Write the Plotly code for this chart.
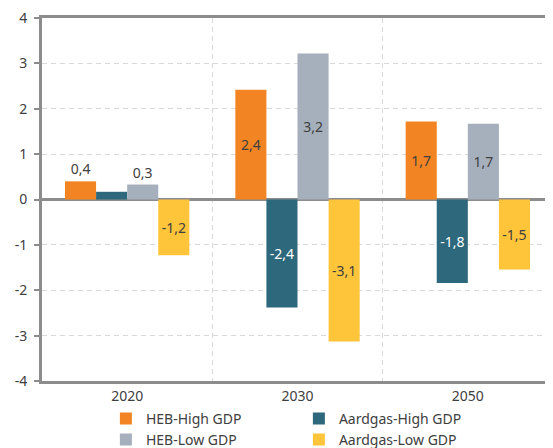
import plotly.graph_objects as go

categories = ["2020", "2030", "2050"]
series_names = ["HEB-High GDP", "Aardgas-High GDP", "HEB-Low GDP", "Aardgas-Low GDP"]
heb_high = [0.4, 2.42, 1.72]
aardgas_high = [0.17, -2.38, -1.84]
heb_low = [0.33, 3.22, 1.67]
aardgas_low = [-1.23, -3.13, -1.54]
y_ticks = [-4, -3, -2, -1, 0, 1, 2, 3, 4]
y_tick_text = [str(t) for t in y_ticks]

colors = ["#F38423", "#2E687C", "#A5B0BC", "#FEC43A"]
text_colors = ["#404040", "#FFFFFF", "#404040", "#404040"]
positions = [
    ["outside", "inside", "inside"],
    ["none", "inside", "inside"],
    ["outside", "inside", "inside"],
    ["inside", "inside", "inside"],
]
all_values = [heb_high, aardgas_high, heb_low, aardgas_low]

FONT = "Noto Sans"
FS = 14
fig = go.Figure()
for name, vals, col, tcol, pos in zip(series_names, all_values, colors, text_colors, positions):
    fig.add_trace(go.Bar(
        x=categories, y=vals, name=name,
        marker=dict(color=col, line=dict(width=0)),
        text=[f"{v:.1f}".replace(".", ",") for v in vals],
        textposition=pos,
        insidetextanchor="middle",
        insidetextfont=dict(color=tcol, family=FONT, size=FS),
        outsidetextfont=dict(color="#404040", family=FONT, size=FS),
        textangle=0,
        constraintext="none",
        cliponaxis=False,
    ))

# label for the small teal bar in 2020 sits below the zero line
fig.add_annotation(
    x=categories[0], y=0, text=f"{aardgas_high[0]:.1f}".replace(".", ","),
    showarrow=False, yshift=-15, xshift=-15.5,
    font=dict(color="#404040", family=FONT, size=FS),
)

fig.update_layout(
    width=545, height=440,
    margin=dict(l=34, r=0, t=10, b=67, autoexpand=False),
    paper_bgcolor="white", plot_bgcolor="white",
    barmode="group", bargap=0.27, bargroupgap=0,
    font=dict(family=FONT, size=FS, color="#404040"),
    separators=", ",
    showlegend=True,
    legend=dict(
        orientation="h", x=0.125, y=-0.06, xanchor="left", yanchor="top",
        entrywidth=148, entrywidthmode="pixels",
        itemwidth=30, font=dict(size=FS, family=FONT, color="#404040"),
        traceorder="normal", tracegroupgap=0,
    ),
    xaxis=dict(
        type="category", range=[-0.5, 2.5],
        showline=True, linecolor="#8C8C8C", linewidth=3, mirror=True,
        tickson="boundaries", showgrid=True, gridcolor="#D9D9D9", griddash="5px,4px", gridwidth=1,
        ticks="", tickfont=dict(size=FS, family=FONT, color="#404040"),
    ),
    yaxis=dict(
        range=[-4, 4], tickvals=y_ticks, ticktext=y_tick_text,
        showline=True, linecolor="#8C8C8C", linewidth=3,
        ticks="outside", ticklen=5, tickwidth=2, tickcolor="#8C8C8C",
        showgrid=True, gridcolor="#D9D9D9", griddash="5px,4px", gridwidth=1,
        zeroline=True, zerolinecolor="#8C8C8C", zerolinewidth=3,
        tickfont=dict(size=FS, family=FONT, color="#404040"),
        ticklabelstandoff=4, ticklabeloverflow="allow",
    ),
)

fig.write_html("out.html")
